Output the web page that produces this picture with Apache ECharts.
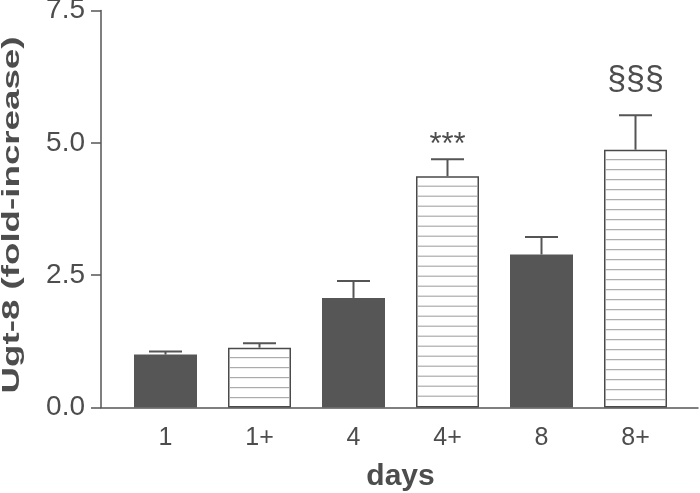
<!DOCTYPE html>
<html>
<head>
<meta charset="utf-8">
<script src="https://cdn.jsdelivr.net/npm/echarts@6/dist/echarts.min.js"></script>
<style>
html,body{margin:0;padding:0;background:#fff;}
#main{width:700px;height:493px;}
</style>
</head>
<body>
<div id="main"></div>
<script>
// ---- data ----
const categories = ['1', '1+', '4', '4+', '8', '8+'];
const means = [1.00, 1.13, 2.07, 4.37, 2.89, 4.87];
const sems = [0.06, 0.085, 0.32, 0.32, 0.33, 0.65];
const hatched = [false, true, false, true, false, true];
const annotations = ['', '', '', '***', '', '§§§'];
const annotationLevels = [null, null, null, 4.65, null, 5.88];
const yTicks = [0, 2.5, 5.0, 7.5];
const yTitle = 'Ugt-8 (fold-increase)';
const xTitle = 'days';

// ---- styles ----
const DARK = '#565656';
const AXIS = '#555555';
const TEXT = '#4d4d4d';
const FONT = '"Liberation Sans", Arial, sans-serif';
const BAR_W = 63;

const chart = echarts.init(document.getElementById('main'), null, {renderer: 'canvas'});

const barData = means.map((v, i) => hatched[i]
  ? {value: v, itemStyle: {color: '#ffffff', borderColor: '#4a4a4a', borderWidth: 1.5}}
  : {value: v, itemStyle: {color: DARK}});

const customData = means.map((v, i) => [i, v, sems[i]]);

const option = {
  backgroundColor: '#ffffff',
  animation: false,
  grid: [
    {left: 118.5, right: 17.5, top: 10.5, bottom: 85.5, containLabel: false, outerBoundsMode: 'none'},
    {left: 101, right: 2, top: 10.5, bottom: 85.5, containLabel: false, outerBoundsMode: 'none'}
  ],
  xAxis: [
    {
      type: 'category', gridIndex: 0, data: categories,
      axisLine: {show: false}, axisTick: {show: false},
      axisLabel: {fontSize: 25, color: TEXT, fontFamily: FONT, margin: 18},
      name: xTitle, nameLocation: 'middle', nameGap: 54,
      nameTextStyle: {fontSize: 30, fontWeight: 'bold', color: TEXT, fontFamily: FONT}
    },
    {
      type: 'value', gridIndex: 1, min: 0, max: 1,
      axisLine: {show: true, lineStyle: {color: AXIS, width: 1.5}},
      axisTick: {show: false}, axisLabel: {show: false}, splitLine: {show: false}
    }
  ],
  yAxis: [
    {
      type: 'value', gridIndex: 0, min: yTicks[0], max: yTicks[yTicks.length - 1], interval: 2.5,
      offset: 17.5,
      axisLine: {show: true, lineStyle: {color: AXIS, width: 1.5}},
      axisTick: {show: true, length: 10, lineStyle: {color: AXIS, width: 1.5}},
      axisLabel: {fontSize: 28, color: TEXT, fontFamily: FONT, margin: 16,
        formatter: v => v.toFixed(1)},
      splitLine: {show: false}
    },
    {
      type: 'value', gridIndex: 1, min: 0, max: 1, show: false
    }
  ],
  graphic: [
    {
      type: 'text', x: 12, y: 215, rotation: Math.PI / 2, scaleX: 1.53,
      style: {text: yTitle, font: 'bold 24px ' + FONT, fill: TEXT, align: 'center', verticalAlign: 'middle'}
    }
  ],
  series: [
    {
      type: 'bar', xAxisIndex: 0, yAxisIndex: 0, data: barData, barWidth: BAR_W, z: 2
    },
    {
      // hatch lines inside hatched bars
      type: 'custom', xAxisIndex: 0, yAxisIndex: 0, z: 3,
      data: customData,
      encode: {x: 0, y: 1},
      renderItem: function (params, api) {
        const i = api.value(0);
        if (!hatched[i]) return null;
        const top = api.coord([i, api.value(1)]);
        const base = api.coord([i, 0]);
        const children = [];
        const x0 = top[0] - BAR_W / 2 + 1.5, x1 = top[0] + BAR_W / 2 - 1.5;
        for (let y = top[1] + 10; y < base[1] - 2; y += 10) {
          children.push({type: 'line', shape: {x1: x0, y1: y, x2: x1, y2: y},
            style: {stroke: '#9a9a9a', lineWidth: 1}});
        }
        return {type: 'group', children: children};
      }
    },
    {
      // error bars (upper whisker)
      type: 'custom', xAxisIndex: 0, yAxisIndex: 0, z: 4,
      data: customData,
      encode: {x: 0, y: 1},
      renderItem: function (params, api) {
        const i = api.value(0);
        const m = api.value(1), s = api.value(2);
        const p0 = api.coord([i, m]);
        const p1 = api.coord([i, m + s]);
        return {type: 'group', children: [
          {type: 'line', shape: {x1: p0[0], y1: p0[1], x2: p1[0], y2: p1[1]},
            style: {stroke: AXIS, lineWidth: 2}},
          {type: 'line', shape: {x1: p1[0] - 16.5, y1: p1[1], x2: p1[0] + 16.5, y2: p1[1]},
            style: {stroke: AXIS, lineWidth: 2}}
        ]};
      }
    },
    {
      // significance annotations
      type: 'custom', xAxisIndex: 0, yAxisIndex: 0, z: 5,
      data: customData,
      encode: {x: 0, y: 1},
      renderItem: function (params, api) {
        const i = api.value(0);
        if (!annotations[i]) return null;
        const p = api.coord([i, annotationLevels[i]]);
        return {type: 'text', x: p[0], y: p[1],
          style: {text: annotations[i], font: (annotations[i] === '§§§' ? '34px ' : '31px ') + FONT, fill: TEXT,
            align: 'center', verticalAlign: 'bottom'}};
      }
    }
  ]
};
chart.setOption(option);
</script>
</body>
</html>
